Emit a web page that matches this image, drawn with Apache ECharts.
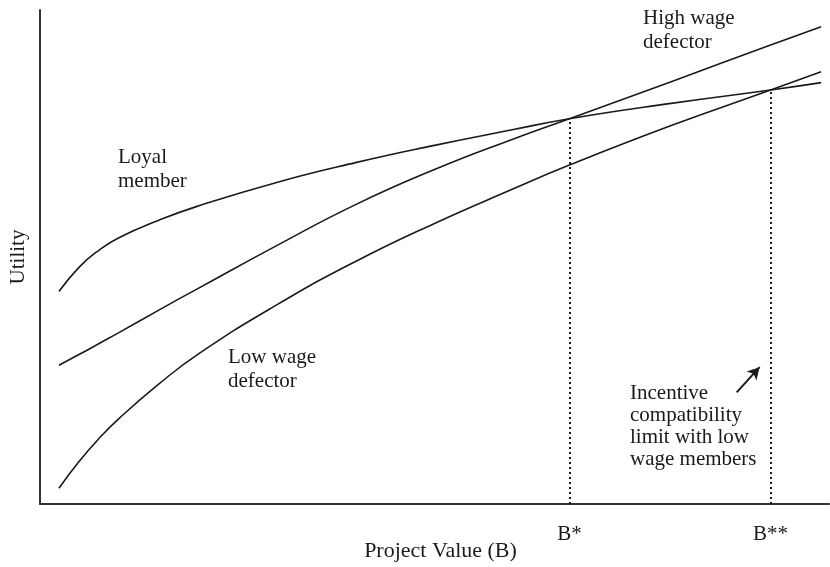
<!DOCTYPE html>
<html>
<head>
<meta charset="utf-8">
<script src="https://cdn.jsdelivr.net/npm/echarts@6/dist/echarts.min.js"></script>
<style>
html,body{margin:0;padding:0;background:#fff;}
#chart{width:830px;height:567px;}
</style>
</head>
<body>
<div id="chart"></div>
<script>
// Project value (abstract units, 0-100)
const xValues = [2.4, 5, 7.5, 10, 15, 20, 30, 40, 50, 60, 67.1, 80, 92.6, 99];
// Utility (abstract units, 0-100)
const loyalMember      = [43.0, 48.0, 51.4, 53.9, 57.4, 60.3, 65.1, 69.1, 72.6, 75.8, 78.0, 81.1, 83.8, 85.3];
const highWageDefector = [28.1, 30.3, 32.5, 34.7, 39.2, 43.6, 52.3, 60.6, 67.7, 73.9, 78.0, 85.5, 92.9, 96.6];
const lowWageDefector  = [3.2, 8.7, 13.3, 17.3, 24.2, 30.3, 40.3, 49.1, 56.8, 63.8, 68.6, 76.6, 83.8, 87.5];
// Threshold project values and their utility level
const thresholdNames = ['B*', 'B**'];
const thresholdX = [67.1, 92.6];
const thresholdY = [78.0, 83.8];
// Annotation arrow (tail, head) in data units
const arrowTail = [88.3, 22.6];
const arrowHead = [91.2, 27.7];

const FONT = '"Liberation Serif", "DejaVu Serif", serif';
const INK = '#1a1a1a';

function pairs(ys) { return xValues.map((x, i) => [x, ys[i]]); }

const lineBase = {
  type: 'line',
  showSymbol: false,
  smooth: 0.5,
  lineStyle: { color: INK, width: 1.6 },
  silent: true,
  z: 3
};

const chart = echarts.init(document.getElementById('chart'));
chart.setOption({
  animation: false,
  backgroundColor: '#fff',
  grid: { left: 40, right: 1, top: 10, bottom: 61 },
  xAxis: {
    type: 'value', min: 0, max: 100,
    axisLine: { show: true, lineStyle: { color: '#333', width: 2 } },
    axisTick: { show: false }, axisLabel: { show: false }, splitLine: { show: false },
    name: 'Project Value (B)', nameLocation: 'middle', nameGap: 36,
    nameTextStyle: { fontFamily: FONT, fontSize: 22, color: INK, padding: [0, 0, 0, 12] }
  },
  yAxis: {
    type: 'value', min: 0, max: 100,
    axisLine: { show: true, lineStyle: { color: '#333', width: 2 } },
    axisTick: { show: false }, axisLabel: { show: false }, splitLine: { show: false },
    name: 'Utility', nameLocation: 'middle', nameGap: 11,
    nameTextStyle: { fontFamily: FONT, fontSize: 21, color: INK, padding: [0, 0, 0, 0] }
  },
  series: [
    Object.assign({}, lineBase, { name: 'Loyal member', data: pairs(loyalMember) }),
    Object.assign({}, lineBase, { name: 'High wage defector', data: pairs(highWageDefector) }),
    Object.assign({}, lineBase, {
      name: 'Low wage defector', data: pairs(lowWageDefector),
      markLine: {
        silent: true,
        symbol: ['none', 'none'],
        animation: false,
        data: [
          ...thresholdNames.map((n, i) => [
            { coord: [thresholdX[i], 0], name: n,
              lineStyle: { type: [2, 3], width: 2, color: INK },
              label: { show: true, position: 'start', formatter: n, distance: 20,
                       fontFamily: FONT, fontSize: 21, color: INK } },
            { coord: [thresholdX[i], thresholdY[i]] }
          ]),
          [
            { coord: arrowTail, symbol: 'none', lineStyle: { type: 'solid', width: 2, color: INK }, label: { show: false } },
            { coord: arrowHead, symbol: 'arrow', symbolSize: [10, 12] }
          ]
        ]
      }
    })
  ],
  graphic: [
    { type: 'text', left: 118, top: 145, silent: true,
      style: { text: 'Loyal\nmember', font: '21px ' + FONT, fill: INK, lineHeight: 24 } },
    { type: 'text', left: 643, top: 6, silent: true,
      style: { text: 'High wage\ndefector', font: '21px ' + FONT, fill: INK, lineHeight: 24 } },
    { type: 'text', left: 228, top: 345, silent: true,
      style: { text: 'Low wage\ndefector', font: '21px ' + FONT, fill: INK, lineHeight: 24 } },
    { type: 'text', left: 630, top: 382, silent: true,
      style: { text: 'Incentive\ncompatibility\nlimit with low\nwage members', font: '21px ' + FONT, fill: INK, lineHeight: 22 } }
  ]
});
</script>
</body>
</html>
